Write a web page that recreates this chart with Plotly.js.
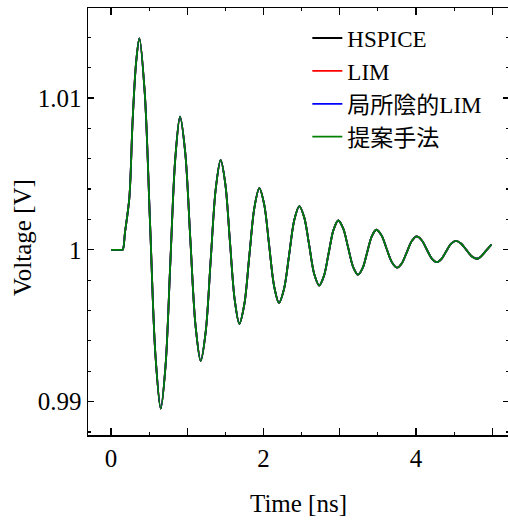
<!DOCTYPE html>
<html>
<head>
<meta charset="utf-8">
<script src="https://cdn.plot.ly/plotly-3.0.1.min.js"></script>
<style>html,body{margin:0;padding:0;overflow:hidden;background:#fff;}</style>
</head>
<body>
<div id="chart"></div>
<script>
// Time axis [ns]
const timeNs = [0, 0.10, 0.13, 0.153, 0.184, 0.24, 0.284, 0.33, 0.372, 0.442, 0.512, 0.582, 0.652,
  0.715, 0.778, 0.842, 0.905, 0.973, 1.040, 1.108, 1.176, 1.242, 1.307, 1.373, 1.438,
  1.499, 1.560, 1.622, 1.683, 1.749, 1.814, 1.880, 1.945, 2.010, 2.074, 2.139, 2.203,
  2.27, 2.337, 2.403, 2.47, 2.535, 2.60, 2.665, 2.73, 2.793, 2.855, 2.918, 2.98,
  3.045, 3.11, 3.175, 3.24, 3.30, 3.36, 3.42, 3.48, 3.548, 3.615, 3.683, 3.75,
  3.815, 3.88, 3.945, 4.01, 4.075, 4.14, 4.205, 4.27, 4.333, 4.395, 4.458, 4.52,
  4.59, 4.66, 4.73, 4.80, 4.85, 4.92, 4.99];
// Voltage [V] (all four results overlap)
const voltHSPICE = [1.0, 1.0, 1.0, 1.0, 1.00118, 1.0034, 1.0086, 1.0124, 1.01393, 1.01037, 1.00174, 0.99310, 0.98954,
  0.99235, 0.99916, 1.00596, 1.00877, 1.00642, 1.00073, 0.99503, 0.99268, 0.99461, 0.99930, 1.00399, 1.00592,
  1.00434, 1.00053, 0.99671, 0.99513, 0.99643, 0.99960, 1.00276, 1.00406, 1.00296, 1.00029, 0.99761, 0.99651,
  0.99744, 0.99970, 1.00195, 1.00288, 1.00212, 1.00027, 0.99841, 0.99765, 0.99828, 0.99979, 1.00131, 1.00193,
  1.00141, 1.00015, 0.99888, 0.99836, 0.99879, 0.99984, 1.00089, 1.00132, 1.00095, 1.00007, 0.99919, 0.99882,
  0.99912, 0.99985, 1.00058, 1.00088, 1.00063, 1.00004, 0.99944, 0.99919, 0.99939, 0.99989, 1.00039, 1.00059,
  1.00042, 1.00000, 0.99958, 0.99941, 0.99955, 0.99995, 1.00035];
const voltLIM = voltHSPICE.slice();
const voltLocalImplicitLIM = voltHSPICE.slice();
const voltProposed = voltHSPICE.slice();

const seriesNames = ['HSPICE', 'LIM', '局所陰的LIM', '提案手法'];
const seriesValues = [voltHSPICE, voltLIM, voltLocalImplicitLIM, voltProposed];
const seriesColors = ['#000000', '#ff0000', '#0000ff', '#008000'];

const xTickVals = [0, 1, 2, 3, 4, 5];
const xTickText = ['0', '', '2', '', '4', ''];
const yTickVals = [0.99, 1.0, 1.01];
const yTickText = ['0.99', '1', '1.01'];

const traces = seriesNames.map((n, i) => ({
  x: timeNs, y: seriesValues[i], name: n, type: 'scatter', mode: 'lines',
  line: {color: seriesColors[i], width: 1.8, shape: 'spline', smoothing: 0.9}
}));

const FONT = '"Liberation Serif", "Noto Sans CJK JP", serif';
const layout = {
  width: 520, height: 520,
  margin: {l: 88, r: 11, t: 8, b: 85},
  paper_bgcolor: '#fff', plot_bgcolor: '#fff',
  font: {family: FONT, size: 25, color: '#000'},
  showlegend: true,
  legend: {x: 0.521, y: 0.98, xanchor: 'left', yanchor: 'top', bgcolor: 'rgba(0,0,0,0)',
    font: {family: FONT, size: 23, color: '#000'}},
  xaxis: {
    range: [-0.302, 5.22], tickmode: 'array', tickvals: xTickVals, ticktext: xTickText,
    ticks: 'inside', ticklen: 7, tickwidth: 1.2, tickcolor: '#000',
    minor: {dtick: 0.5, ticks: 'inside', ticklen: 3, tickwidth: 1.2, tickcolor: '#000'},
    showline: true, linecolor: '#000', linewidth: 1.5, mirror: 'ticks',
    showgrid: false, zeroline: false,
    title: {text: 'Time [ns]', font: {family: FONT, size: 25}, standoff: 24},
    tickfont: {family: FONT, size: 25}
  },
  yaxis: {
    range: [0.9878, 1.01593], tickmode: 'array', tickvals: yTickVals, ticktext: yTickText,
    ticks: 'inside', ticklen: 6, tickwidth: 1.2, tickcolor: '#000',
    minor: {dtick: 0.002, ticks: 'inside', ticklen: 3, tickwidth: 1.2, tickcolor: '#000'},
    showline: true, linecolor: '#000', linewidth: 1.5, mirror: 'ticks',
    showgrid: false, zeroline: false,
    tickfont: {family: FONT, size: 25}
  },
  annotations: [{
    text: 'Voltage [V]', textangle: -90, xref: 'paper', yref: 'paper',
    x: -65 / 421, y: (435 - 238) / 427, xanchor: 'center', yanchor: 'middle',
    showarrow: false, font: {family: FONT, size: 25, color: '#000'}
  }]
};
Plotly.newPlot('chart', traces, layout, {staticPlot: true, displayModeBar: false});
</script>
</body>
</html>
